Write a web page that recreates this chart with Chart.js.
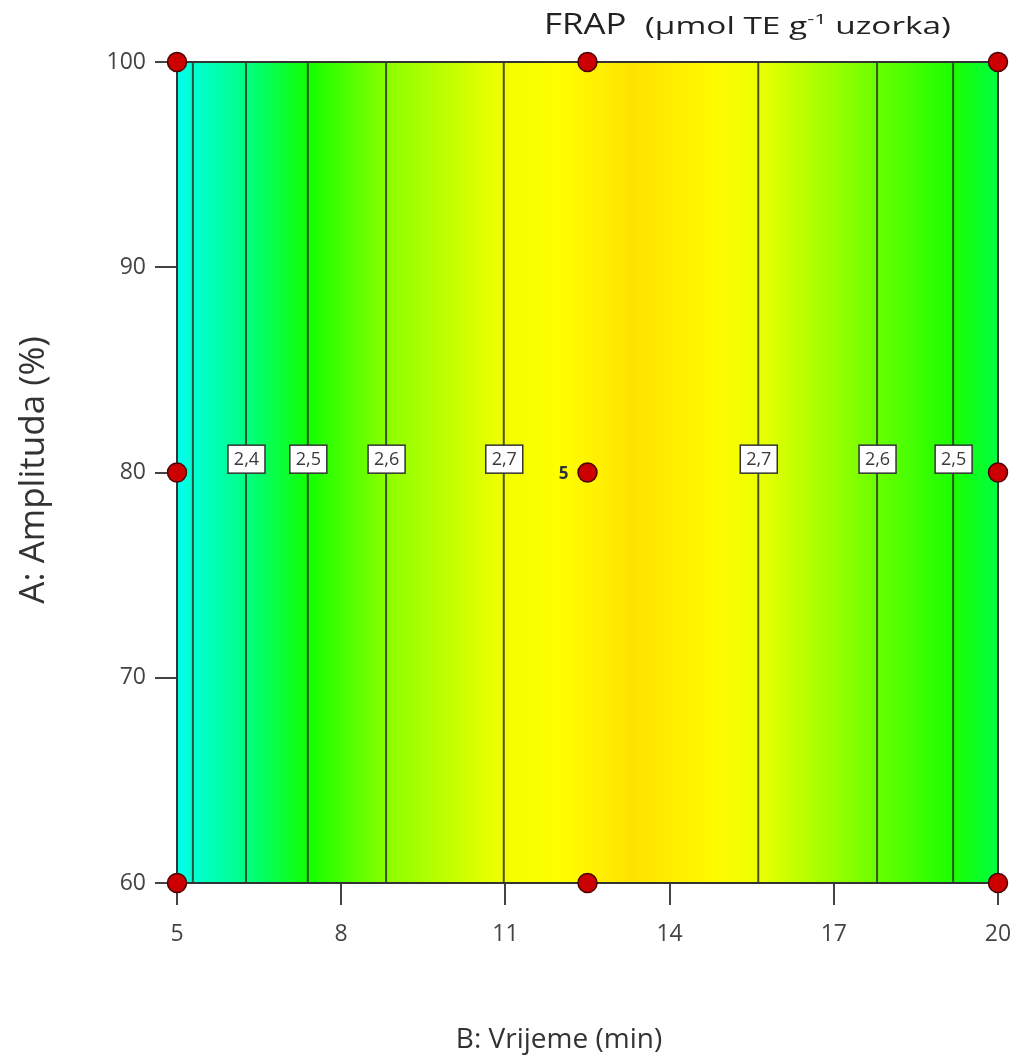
<!DOCTYPE html>
<html>
<head>
<meta charset="utf-8">
<script src="https://cdn.jsdelivr.net/npm/chart.js@4.4.0/dist/chart.umd.min.js"></script>
<style>
  html, body { margin: 0; padding: 0; background: #fff; }
  #wrap { width: 1017px; height: 1062px; }
</style>
</head>
<body>
<div id="wrap"><canvas id="my_chart" width="1017" height="1062"></canvas></div>
<script>
// design points (B: time, A: amplitude)
const design_time = [5, 5, 5, 12.5, 12.5, 12.5, 20, 20, 20];
const design_amp = [60, 80, 100, 60, 80, 100, 60, 80, 100];
const design_reps = [1, 1, 1, 1, 5, 1, 1, 1, 1];

// contour lines of FRAP response (vertical, only depends on time)
const contour_time = [5.29, 6.26, 7.39, 8.82, 10.97, 15.62, 17.79, 19.18];
const contour_label = ['', '2,4', '2,5', '2,6', '2,7', '2,7', '2,6', '2,5'];
const contour_label_amp = 80.65;

// colour ramp across time axis
const ramp_time = [5, 5.29, 6.26, 7.39, 8.82, 10.97, 12, 13.3, 14.8, 15.62, 17.79, 19.18, 20];
const ramp_color = ['#00ffec', '#00ffd2', '#00ff86', '#12ff00', '#8aff00', '#f2ff00', '#ffff00',
                    '#ffe200', '#fffa00', '#ecff00', '#6aff00', '#1aff00', '#00ff42'];

const x_ticks = [5, 8, 11, 14, 17, 20];
const y_ticks = [60, 70, 80, 90, 100];
const x_title = 'B: Vrijeme (min)';
const y_title = 'A: Amplituda (%)';

const font_family = '"Open Sans", "DejaVu Sans", sans-serif';

const surface_plugin = {
    id: 'surface',
    beforeDatasetsDraw(chart) {
        const {ctx, chartArea: a, scales} = chart;
        const grad = ctx.createLinearGradient(a.left, 0, a.right, 0);
        ramp_time.forEach((t, i) => {
            const p = (scales.x.getPixelForValue(t) - a.left) / (a.right - a.left);
            grad.addColorStop(Math.min(1, Math.max(0, p)), ramp_color[i]);
        });
        ctx.save();
        ctx.fillStyle = grad;
        ctx.fillRect(a.left, a.top, a.right - a.left, a.bottom - a.top);
        ctx.strokeStyle = '#333';
        ctx.lineWidth = 2;
        ctx.strokeRect(a.left, a.top, a.right - a.left, a.bottom - a.top);
        ctx.restore();
    },
    afterDatasetsDraw(chart) {
        const {ctx, scales} = chart;
        ctx.save();
        // contour labels
        ctx.font = '18px ' + font_family;
        ctx.textAlign = 'center';
        ctx.textBaseline = 'middle';
        contour_time.forEach((t, i) => {
            if (!contour_label[i]) return;
            const px = scales.x.getPixelForValue(t);
            const py = scales.y.getPixelForValue(contour_label_amp);
            ctx.fillStyle = '#fff';
            ctx.fillRect(px - 18, py - 14, 37, 28);
            ctx.strokeStyle = '#333';
            ctx.lineWidth = 1.5;
            ctx.strokeRect(px - 18, py - 14, 37, 28);
            ctx.fillStyle = '#3a3a3a';
            ctx.fillText(contour_label[i], px + 0.5, py + 1);
        });
        // replicate counts
        ctx.font = 'bold 17px ' + font_family;
        ctx.fillStyle = '#333';
        design_reps.forEach((r, i) => {
            if (r < 2) return;
            const px = scales.x.getPixelForValue(design_time[i]);
            const py = scales.y.getPixelForValue(design_amp[i]);
            ctx.fillText(String(r), px - 24, py + 2);
        });
        // axis titles
        ctx.fillStyle = '#333';
        ctx.font = '28px ' + font_family;
        ctx.fillText(x_title, 559, 1040);
        ctx.save();
        ctx.translate(34, 470);
        ctx.rotate(-Math.PI / 2);
        ctx.font = '35px ' + font_family;
        ctx.fillText(y_title, 0, 0);
        ctx.restore();
        // chart title
        ctx.textAlign = 'left';
        ctx.textBaseline = 'alphabetic';
        ctx.fillStyle = '#222';
        const base = 34;
        ctx.save();
        ctx.translate(544, base);
        ctx.scale(1.2, 1);
        ctx.font = '29px ' + font_family;
        ctx.fillText('FRAP', 0, 0);
        ctx.restore();
        ctx.save();
        ctx.translate(645, base);
        ctx.scale(1.45, 1);
        let x = 0;
        ctx.font = '23px ' + font_family;
        ctx.fillText('(µmol TE g', x, 0);
        x += ctx.measureText('(µmol TE g').width;
        ctx.font = '15px ' + font_family;
        ctx.fillText('-1', x, -10);
        x += ctx.measureText('-1').width;
        ctx.font = '23px ' + font_family;
        ctx.fillText(' uzorka)', x, 0);
        ctx.restore();
        ctx.restore();
    }
};

const contour_sets = contour_time.map(t => ({
    type: 'line',
    data: [{x: t, y: 60}, {x: t, y: 100}],
    borderColor: 'rgba(45,55,35,0.85)',
    borderWidth: 2,
    pointRadius: 0,
    fill: false,
    order: 2
}));

const ctx = document.getElementById('my_chart').getContext('2d');
window.my_chart = new Chart(ctx, {
    type: 'scatter',
    data: {
        datasets: [
            ...contour_sets,
            {
                type: 'scatter',
                data: design_time.map((t, i) => ({x: t, y: design_amp[i]})),
                backgroundColor: '#cc0000',
                borderColor: '#4a0000',
                borderWidth: 1.5,
                pointRadius: 9.5,
                clip: false,
                order: 1
            }
        ]
    },
    plugins: [surface_plugin],
    options: {
        responsive: false,
        animation: false,
        layout: { padding: { top: 62, right: 19, left: 0, bottom: 0 } },
        plugins: { legend: { display: false }, tooltip: { enabled: false } },
        scales: {
            x: {
                type: 'linear',
                min: 5, max: 20,
                afterBuildTicks: s => { s.ticks = x_ticks.map(v => ({value: v})); },
                afterFit: s => { s.height = 179; s.paddingLeft = 0; s.paddingRight = 0; },
                grid: { drawOnChartArea: false, drawTicks: true, tickLength: 22, color: '#444', lineWidth: 2 },
                border: { display: true, color: '#333', width: 2 },
                ticks: { color: '#444', font: { size: 23, family: font_family }, padding: 16, maxRotation: 0 },
                title: { display: false }
            },
            y: {
                type: 'linear',
                min: 60, max: 100,
                afterBuildTicks: s => { s.ticks = y_ticks.map(v => ({value: v})); },
                afterFit: s => { s.width = 177; s.paddingTop = 0; s.paddingBottom = 0; },
                grid: { drawOnChartArea: false, drawTicks: true, tickLength: 22, color: '#444', lineWidth: 2 },
                border: { display: true, color: '#333', width: 2 },
                ticks: { color: '#444', font: { size: 23, family: font_family }, padding: 9 },
                title: { display: false }
            }
        }
    }
});
</script>
</body>
</html>
